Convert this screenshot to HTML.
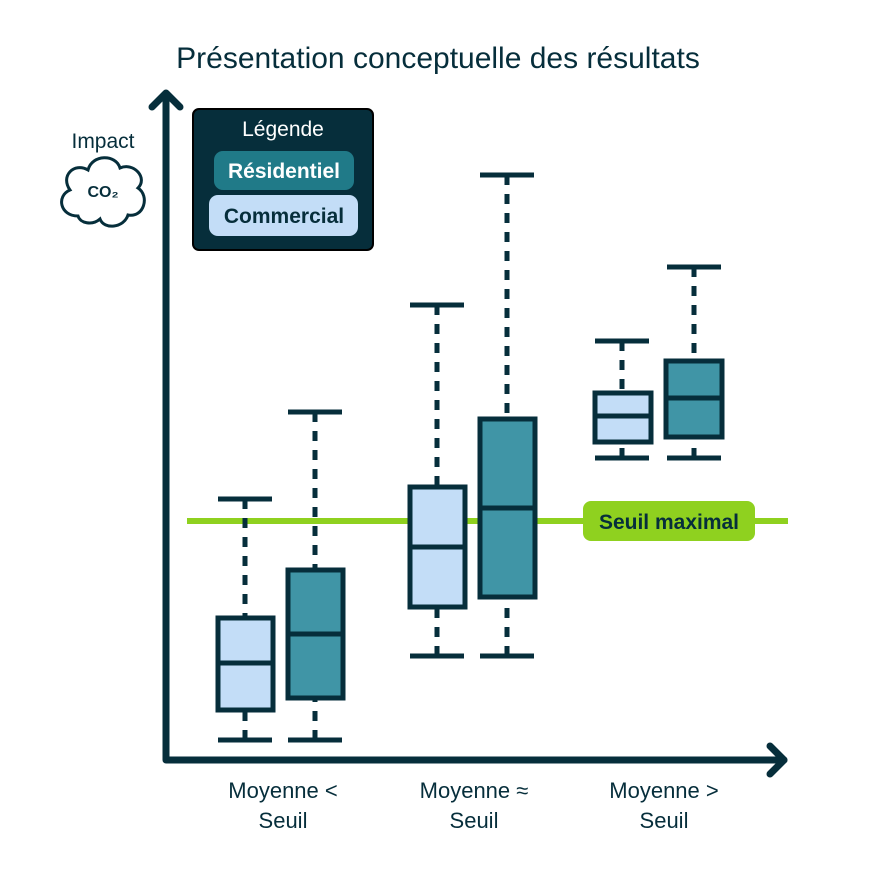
<!DOCTYPE html>
<html><head><meta charset="utf-8"><style>
html,body{margin:0;padding:0;background:#fff}
svg{display:block}
text{font-family:"Liberation Sans",sans-serif;fill:#062e3b}
</style></head><body>
<svg width="875" height="875" viewBox="0 0 875 875" xmlns="http://www.w3.org/2000/svg">
<text x="438" y="68" font-size="30" text-anchor="middle">Présentation conceptuelle des résultats</text>

<g stroke="#062e3b" stroke-width="7" fill="none" stroke-linecap="round" stroke-linejoin="round">
<polyline points="166,95 166,760 784,760"/>
<polyline points="152,107 166,93 180,107"/>
<polyline points="770,746 784,760 770,774"/>
</g>

<text x="103" y="148" font-size="21" text-anchor="middle">Impact</text>
<path d="M78,216 C60,216 56,196 70,190 C60,176 74,162 88,170 C92,154 116,154 120,168 C134,162 148,178 138,188 C150,196 144,218 128,215 C124,228 104,230 100,219 C92,226 80,223 78,216 Z" fill="#fff" stroke="#062e3b" stroke-width="3"/>
<text x="103" y="197" font-size="16" font-weight="bold" text-anchor="middle">CO₂</text>

<rect x="193" y="109" width="180" height="141" rx="6" fill="#062e3b" stroke="#000" stroke-width="2"/>
<text x="283" y="136" font-size="21" text-anchor="middle" style="fill:#fff">Légende</text>
<rect x="214" y="151" width="140" height="39" rx="9" fill="#207a88"/>
<text x="284" y="178" font-size="21" font-weight="bold" text-anchor="middle" style="fill:#fff">Résidentiel</text>
<rect x="209" y="195" width="149" height="41" rx="9" fill="#c3ddf7"/>
<text x="284" y="223" font-size="21" font-weight="bold" text-anchor="middle">Commercial</text>

<line x1="187" y1="521" x2="788" y2="521" stroke="#8fd11f" stroke-width="6"/>

<g stroke="#062e3b" stroke-width="5">
<g stroke-dasharray="10 9">
<line x1="245" y1="499" x2="245" y2="616"/><line x1="245" y1="740" x2="245" y2="712"/>
<line x1="315" y1="412" x2="315" y2="568"/><line x1="315" y1="740" x2="315" y2="700"/>
<line x1="437" y1="305" x2="437" y2="485"/><line x1="437" y1="656" x2="437" y2="609"/>
<line x1="507" y1="175" x2="507" y2="417"/><line x1="507" y1="656" x2="507" y2="599"/>
<line x1="622" y1="341" x2="622" y2="391"/><line x1="622" y1="458" x2="622" y2="443"/>
<line x1="694" y1="267" x2="694" y2="359"/><line x1="694" y1="458" x2="694" y2="438"/>
</g>
<line x1="218" y1="499" x2="272" y2="499"/><line x1="218" y1="740" x2="272" y2="740"/>
<line x1="288" y1="412" x2="342" y2="412"/><line x1="288" y1="740" x2="342" y2="740"/>
<line x1="410" y1="305" x2="464" y2="305"/><line x1="410" y1="656" x2="464" y2="656"/>
<line x1="480" y1="175" x2="534" y2="175"/><line x1="480" y1="656" x2="534" y2="656"/>
<line x1="595" y1="341" x2="649" y2="341"/><line x1="595" y1="458" x2="649" y2="458"/>
<line x1="667" y1="267" x2="721" y2="267"/><line x1="667" y1="458" x2="721" y2="458"/>
<rect x="218" y="618" width="55" height="92" fill="#c3ddf7"/><line x1="218" y1="663" x2="273" y2="663"/>
<rect x="288" y="570" width="55" height="128" fill="#4095a6"/><line x1="288" y1="634" x2="343" y2="634"/>
<rect x="410" y="487" width="55" height="120" fill="#c3ddf7"/><line x1="410" y1="547" x2="465" y2="547"/>
<rect x="480" y="419" width="55" height="178" fill="#4095a6"/><line x1="480" y1="508" x2="535" y2="508"/>
<rect x="595" y="393" width="56" height="49" fill="#c3ddf7"/><line x1="595" y1="416" x2="651" y2="416"/>
<rect x="666" y="361" width="56" height="76" fill="#4095a6"/><line x1="666" y1="398" x2="722" y2="398"/>
</g>

<rect x="583" y="501" width="172" height="40" rx="8" fill="#8fd11f"/>
<text x="669" y="529" font-size="21" font-weight="bold" text-anchor="middle">Seuil maximal</text>

<g font-size="22" text-anchor="middle">
<text x="283" y="798">Moyenne &lt;</text><text x="283" y="828">Seuil</text>
<text x="474" y="798">Moyenne ≈</text><text x="474" y="828">Seuil</text>
<text x="664" y="798">Moyenne &gt;</text><text x="664" y="828">Seuil</text>
</g>
</svg>
</body></html>
